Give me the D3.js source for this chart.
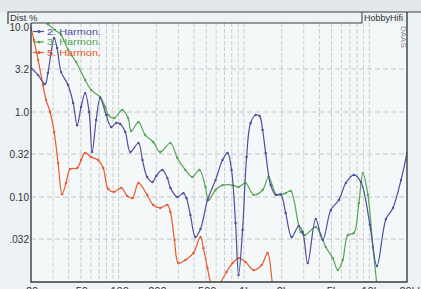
<!DOCTYPE html>
<html>
<head>
<meta charset="utf-8">
<script src="https://cdn.jsdelivr.net/npm/d3@7"></script>
<style>
  body { margin: 0; background: #edf2f4; }
  svg { display: block; font-family: "Liberation Sans", Arial, sans-serif; }
</style>
</head>
<body>
<script>
// 2. Harmon.
var h2Freq = [20, 22.8, 25.9, 27.3, 28.9, 30.6, 32.3, 34.8, 39.5, 43.4, 46.7, 50.2, 54.1, 58.2, 61.5, 66.2,
  71.3, 79.6, 87.3, 95.7, 103, 113, 124, 144, 155, 169, 186, 200, 223, 245, 259, 294, 329, 348, 374, 410,
  450, 512, 593, 675, 740, 796, 857, 906, 975, 1050, 1130, 1240, 1333, 1409, 1490, 1633, 1791, 1963, 2153,
  2405, 2735, 2944, 3228, 3741, 4256, 4934, 5720, 6503, 7537, 8575, 10120, 11510, 13590, 15450, 17910, 20000];
var h2Dist = [3.3, 2.72, 2.13, 2.88, 4.95, 7.4, 5.66, 2.95, 2.08, 1.28, 0.70, 1.15, 1.67, 1.0, 0.338, 0.805,
  1.46, 0.92, 0.667, 0.743, 0.723, 0.582, 0.338, 0.432, 0.272, 0.172, 0.150, 0.177, 0.208, 0.167, 0.128, 0.100,
  0.111, 0.097, 0.0614, 0.0338, 0.042, 0.092, 0.158, 0.272, 0.33, 0.208, 0.0494, 0.0121, 0.041, 0.296, 0.743,
  0.922, 0.897, 0.614, 0.33, 0.138, 0.106, 0.108, 0.0649, 0.0338, 0.0456, 0.0387, 0.0167, 0.055, 0.0312,
  0.0703, 0.0922, 0.146, 0.182, 0.150, 0.0469, 0.0154, 0.055, 0.0743, 0.158, 0.33];

// 3. Harmon.
var h3Freq = [20, 26.4, 27.3, 31.1, 34.8, 39.5, 45.8, 54.1, 60.4, 71.3, 78.2, 82.6, 92.2, 107, 119, 126, 144,
  163, 189, 215, 259, 294, 341, 388, 442, 493, 521, 593, 675, 811, 906, 1030, 1194, 1409, 1574, 1824, 2153,
  2360, 2838, 3055, 3741, 4102, 4498, 5117, 5610, 6151, 6745, 7537, 8260, 8892, 9750, 10690, 11510];
var h3Dist = [15.4, 11.5, 10.8, 9.22, 8.05, 5.36, 3.87, 2.38, 1.82, 1.50, 1.15, 0.922, 0.85, 1.06, 0.85, 0.597,
  0.762, 0.536, 0.444, 0.338, 0.432, 0.288, 0.208, 0.172, 0.208, 0.131, 0.092, 0.121, 0.138, 0.138, 0.131,
  0.146, 0.106, 0.121, 0.172, 0.106, 0.111, 0.118, 0.0387, 0.0357, 0.0444, 0.0357, 0.0258, 0.0191, 0.0138,
  0.0182, 0.0357, 0.0377, 0.0849, 0.191, 0.106, 0.0258, 0.0092];

// 5. Harmon.
var h5Freq = [20, 21.1, 22.8, 24.9, 26.4, 28.4, 30.6, 32.9, 35.4, 38.1, 41.0, 46.7, 50.2, 54.1, 60.4, 68.7,
  75.4, 82.6, 92.2, 105, 117, 129, 144, 169, 189, 215, 245, 259, 279, 300, 341, 395, 450, 475, 512, 551, 604,
  650, 726, 811, 906, 1030, 1194, 1383, 1545, 1694, 1791];
var h5Dist = [9.73, 7.03, 4.09, 2.08, 1.38, 1.0, 0.582, 0.251, 0.108, 0.146, 0.213, 0.219, 0.272, 0.33, 0.296,
  0.272, 0.219, 0.124, 0.115, 0.128, 0.103, 0.097, 0.146, 0.106, 0.0805, 0.0743, 0.0805, 0.0667, 0.0312,
  0.0167, 0.0182, 0.0219, 0.0338, 0.0251, 0.0146, 0.0092, 0.0076, 0.0097, 0.0131, 0.0167, 0.0191, 0.0172,
  0.0138, 0.0158, 0.0219, 0.0092, 0.0061];

var seriesNames = ["2. Harmon.", "3. Harmon.", "5. Harmon."];
var seriesColors = ["#4d4f9c", "#55a553", "#e85a2c"];

var xTickValues = [20, 50, 100, 200, 500, 1000, 2000, 5000, 10000, 20000];
var xTickLabels = ["20", "50", "100", "200", "500", "1k", "2k", "5k", "10k", "20kHz"];
var yTickValues = [10, 3.2, 1, 0.32, 0.1, 0.032];
var yTickLabels = ["10.0", "3.2", "1.0", "0.32", "0.10", ".032"];
var xGridValues = [30, 40, 50, 60, 70, 80, 90, 100, 200, 300, 400, 500, 600, 700, 800, 900, 1000,
  2000, 3000, 4000, 5000, 6000, 7000, 8000, 9000, 10000];

var width = 421,
    height = 289,
    plotL = 31, plotR = 407, plotT = 23, plotB = 282;

var x = d3.scaleLog().domain([20, 20000]).range([plotL, plotR]);
var y = d3.scaleLog().domain([0.01, 11.15]).range([plotB, plotT]);

var svg = d3.select("body").append("svg")
    .attr("width", width)
    .attr("height", height);

// header strip
svg.append("rect").attr("x", 0).attr("y", 0).attr("width", width).attr("height", 12)
    .attr("fill", "#e2e8eb");
svg.append("rect").attr("x", plotL).attr("y", plotT).attr("width", plotR - plotL).attr("height", plotB - plotT)
    .attr("fill", "#f4f8f9");

svg.append("clipPath").attr("id", "plot")
  .append("rect").attr("x", plotL).attr("y", plotT).attr("width", plotR - plotL).attr("height", plotB - plotT);

// grid
svg.append("g").selectAll("line").data(xGridValues).enter().append("line")
    .attr("x1", d => x(d)).attr("x2", d => x(d))
    .attr("y1", plotT).attr("y2", plotB)
    .attr("stroke", (d, i) => i % 3 === 0 ? "#d3bda6" : "#b7babc")
    .attr("stroke-width", 0.7)
    .attr("stroke-dasharray", "4,2");

svg.append("g").selectAll("line").data(yTickValues.slice(1)).enter().append("line")
    .attr("x1", plotL).attr("x2", plotR)
    .attr("y1", d => y(d)).attr("y2", d => y(d))
    .attr("stroke", "#adb0b2")
    .attr("stroke-width", 0.7)
    .attr("stroke-dasharray", "5,3");

// curves
var line = d3.line()
    .x(d => x(d[0]))
    .y(d => y(d[1]))
    .curve(d3.curveCatmullRom.alpha(0.5));

var series = [
  d3.zip(h2Freq, h2Dist),
  d3.zip(h3Freq, h3Dist),
  d3.zip(h5Freq, h5Dist)
];

var plot = svg.append("g").attr("clip-path", "url(#plot)");

// draw 5th first so 2nd ends on top
[2, 1, 0].forEach(function(k) {
  plot.append("path")
      .datum(series[k])
      .attr("fill", "none")
      .attr("stroke", seriesColors[k])
      .attr("stroke-width", 1.2)
      .attr("d", line);
  plot.append("g").selectAll("circle").data(series[k]).enter().append("circle")
      .attr("cx", d => x(d[0]))
      .attr("cy", d => y(d[1]))
      .attr("r", 1.2)
      .attr("fill", seriesColors[k]);
});

// frame
var frame = svg.append("g").attr("stroke", "#3a3c40").attr("fill", "none");
frame.append("path").attr("d", `M8,${plotT + 1}V12H${width}`).attr("stroke-width", 1.2);
frame.append("path").attr("d", `M${plotL},${plotT}H362V12`).attr("stroke-width", 1);
frame.append("path").attr("d", `M${plotL},${plotT}V${plotB}H${plotR}V12`).attr("stroke-width", 1.4);

// y tick labels
svg.append("g").selectAll("text").data(yTickValues).enter().append("text")
    .attr("x", 29)
    .attr("y", d => y(d))
    .attr("dy", "0.35em")
    .attr("text-anchor", "end")
    .attr("font-size", 10)
    .attr("fill", "#333")
    .text((d, i) => yTickLabels[i]);

// x tick labels
svg.append("g").selectAll("text").data(xTickValues).enter().append("text")
    .attr("x", (d, i) => x(d) + (i === xTickValues.length - 1 ? 8 : 1))
    .attr("y", 295)
    .attr("text-anchor", "middle")
    .attr("font-size", 11)
    .attr("fill", "#333")
    .text((d, i) => xTickLabels[i]);

svg.append("text").attr("x", 10).attr("y", 21).attr("font-size", 9.5).attr("fill", "#333").text("Dist %");
svg.append("text").attr("x", 364).attr("y", 21).attr("font-size", 9.5)
    .attr("textLength", 39).attr("lengthAdjust", "spacingAndGlyphs")
    .attr("fill", "#333").text("HobbyHifi");
svg.append("text").attr("transform", "translate(401,26) rotate(90)")
    .attr("font-size", 8).attr("fill", "#8a8a8a").text("DAAS");

// legend
var legend = svg.append("g").selectAll("g").data(seriesNames).enter().append("g")
    .attr("transform", (d, i) => `translate(33,${31.5 + i * 10.5})`);
legend.append("line").attr("x1", 0).attr("x2", 11).attr("y1", 0).attr("y2", 0)
    .attr("stroke", (d, i) => seriesColors[i]).attr("stroke-width", 1.2);
legend.append("circle").attr("cx", 6).attr("cy", 0).attr("r", 1.5)
    .attr("fill", (d, i) => seriesColors[i]);
legend.append("text").attr("x", 14).attr("y", 0).attr("dy", "0.35em")
    .attr("font-size", 9.5)
    .attr("textLength", 54).attr("lengthAdjust", "spacingAndGlyphs")
    .attr("fill", (d, i) => seriesColors[i])
    .text(d => d);
</script>
</body>
</html>
